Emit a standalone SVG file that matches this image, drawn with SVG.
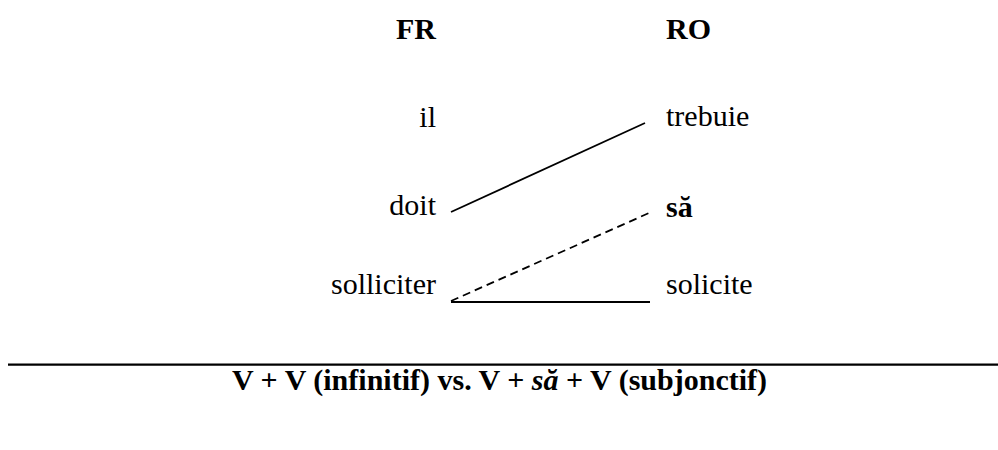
<svg xmlns="http://www.w3.org/2000/svg" width="998" height="450" viewBox="0 0 998 450">
<style>
text{font-family:"Liberation Serif","Times New Roman",serif;font-size:30px;fill:#000}
.b{font-weight:bold}
.l{text-anchor:end}
.ln{stroke:#000;stroke-width:1.8;fill:none}
.d{stroke-dasharray:8 5}
</style>
<rect width="998" height="450" fill="#fff"/>
<g id="header">
<text class="b" x="396" y="39">FR</text>
<text class="b" x="666" y="39">RO</text>
</g>
<g id="fr-il"><text class="l" x="436" y="127">il</text></g>
<g id="fr-doit"><text class="l" x="436" y="215">doit</text></g>
<g id="fr-solliciter"><text class="l" x="436" y="294">solliciter</text></g>
<g id="ro-trebuie"><text x="666" y="126">trebuie</text></g>
<g id="ro-sa"><text class="b" x="666" y="217">să</text></g>
<g id="ro-solicite"><text x="666" y="294">solicite</text></g>
<g id="connectors">
<line class="ln" x1="451" y1="212" x2="645" y2="123"/>
<line class="ln d" x1="451" y1="301" x2="649" y2="213"/>
<line class="ln" x1="451" y1="302" x2="650" y2="302"/>
</g>
<line x1="8" y1="364.7" x2="998" y2="364.7" stroke="#000" stroke-width="2.2"/>
<g id="caption">
<text class="b" x="232" y="390">V + V (infinitif) vs. V + <tspan font-style="italic">să</tspan> + V (subjonctif)</text>
</g>
</svg>
